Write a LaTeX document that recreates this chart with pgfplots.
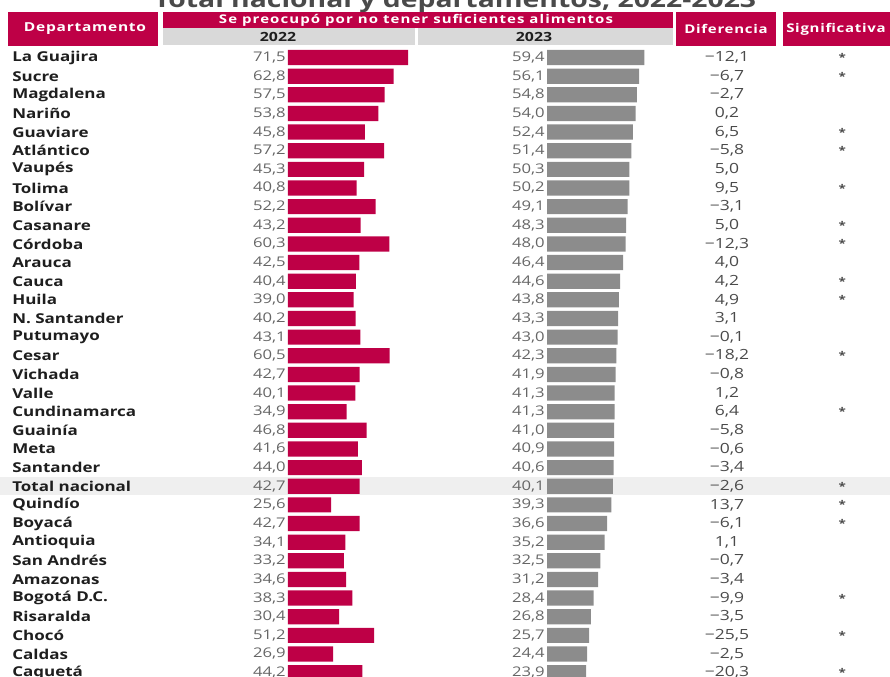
\documentclass[border=0pt]{standalone}
\usepackage{fontspec}
\setmainfont{Open Sans}[FakeStretch=1.25]
\newfontfamily\hdrfont{Open Sans}[FakeStretch=1.25, LetterSpace=6]
\newfontfamily\hdrwide{Open Sans}[FakeStretch=1.25, LetterSpace=9]
\usepackage{pgfplots}
\usepackage{pgfplotstable}
\pgfplotsset{compat=1.18}
\pgfkeys{/pgf/number format/assume math mode=true}
\definecolor{crim}{HTML}{BE0046}
\definecolor{barg}{HTML}{8C8C8C}
\definecolor{hdrg}{HTML}{D9D9D9}
\definecolor{bandc}{HTML}{EFEFEF}
\definecolor{numg}{HTML}{666666}
\definecolor{difg}{HTML}{4A4A4A}
\definecolor{txt}{HTML}{1E1E1E}

\newcommand\mynum[1]{\pgfmathparse{(#1)<0}\ifdim\pgfmathresult pt>0.5pt −\fi\pgfmathsetmacro\absv{abs(#1)}\pgfmathprintnumber[fixed,fixed zerofill,precision=1,use comma]{\absv}}

\pgfplotstableread{
idx v22 v23 diff sig
0 71.5 59.4 -12.1 1
1 62.8 56.1 -6.7 1
2 57.5 54.8 -2.7 0
3 53.8 54.0 0.2 0
4 45.8 52.4 6.5 1
5 57.2 51.4 -5.8 1
6 45.3 50.3 5.0 0
7 40.8 50.2 9.5 1
8 52.2 49.1 -3.1 0
9 43.2 48.3 5.0 1
10 60.3 48.0 -12.3 1
11 42.5 46.4 4.0 0
12 40.4 44.6 4.2 1
13 39.0 43.8 4.9 1
14 40.2 43.3 3.1 0
15 43.1 43.0 -0.1 0
16 60.5 42.3 -18.2 1
17 42.7 41.9 -0.8 0
18 40.1 41.3 1.2 0
19 34.9 41.3 6.4 1
20 46.8 41.0 -5.8 0
21 41.6 40.9 -0.6 0
22 44.0 40.6 -3.4 0
23 42.7 40.1 -2.6 1
24 25.6 39.3 13.7 1
25 42.7 36.6 -6.1 1
26 34.1 35.2 1.1 0
27 33.2 32.5 -0.7 0
28 34.6 31.2 -3.4 0
29 38.3 28.4 -9.9 1
30 30.4 26.8 -3.5 0
31 51.2 25.7 -25.5 1
32 26.9 24.4 -2.5 0
33 44.2 23.9 -20.3 1
}\datatable

\begin{document}
\begin{tikzpicture}
\begin{scope}[x=0.75pt,y=-0.75pt]
  % highlighted row
  \fill[bandc] (0,476.6) rectangle (890,495.2);
  % title (partly above the page, as in the reference)
  \node[anchor=base, font=\bfseries\fontsize{17}{20}\selectfont, text=difg, inner sep=0pt] at (455,7) {Total nacional y departamentos, 2022-2023};
  % header boxes
  \fill[crim] (8,12) rectangle (158,46);
  \node[text=white, font=\hdrfont\bfseries\fontsize{9.3}{10}\selectfont] at (85,29) {Departamento};
  \fill[crim] (163,12) rectangle (673,27.5);
  \node[text=white, font=\hdrwide\bfseries\fontsize{9}{10}\selectfont] at (416,20) {Se preocupó por no tener suficientes alimentos};
  \fill[hdrg] (163,27.5) rectangle (415,45);
  \fill[hdrg] (418,27.5) rectangle (673,45);
  \node[text=txt, font=\bfseries\fontsize{9.5}{10}\selectfont] at (278,36.5) {2022};
  \node[text=txt, font=\bfseries\fontsize{9.5}{10}\selectfont] at (534,36.5) {2023};
  \fill[crim] (676,12) rectangle (776,46);
  \node[text=white, font=\hdrfont\bfseries\fontsize{9}{10}\selectfont] at (726,29) {Diferencia};
  \fill[crim] (783,12) rectangle (900,46);
  \node[anchor=west, inner sep=0pt, text=white, font=\hdrfont\bfseries\fontsize{9}{10}\selectfont] at (786,29) {Significativa};
  \coordinate (A22) at (288,48.2);
  \coordinate (A23) at (547,48.2);
\end{scope}

% ---- 2022 ----
\begin{axis}[
  at={(A22)}, anchor=north west,
  x=1.26pt, y=13.98pt,
  xmin=0, xmax=80, ymin=-33.5, ymax=0.5,
  axis line style={draw=none},
  xtick=\empty,
  ytick={-33,...,0},
  yticklabels={Caquetá, Caldas, Chocó, Risaralda, Bogotá D.C., Amazonas, San Andrés, Antioquia, Boyacá, Quindío, Total nacional, Santander, Meta, Guainía, Cundinamarca, Valle, Vichada, Cesar, Putumayo, N. Santander, Huila, Cauca, Arauca, Córdoba, Casanare, Bolívar, Tolima, Vaupés, Atlántico, Guaviare, Nariño, Magdalena, Sucre, La Guajira},
  major tick length=0pt,
  yticklabel style={anchor=west, inner sep=0pt, xshift=-207pt, font=\bfseries\fontsize{10.2}{12}\selectfont, text=txt},
  clip=false,
]
\addplot[xbar, bar width=11.4pt, fill=crim, draw=none] table[x=v22, y expr=-\thisrow{idx}]{\datatable};
\addplot[draw=none, mark=none, point meta=explicit symbolic,
  nodes near coords={\mynum{\pgfplotspointmeta}},
  every node near coord/.append style={anchor=east, inner sep=1.5pt, text=numg, font=\fontsize{10}{12}\selectfont}]
  table[x expr=0, y expr=-\thisrow{idx}, meta=v22]{\datatable};
\end{axis}

% ---- 2023 ----
\begin{axis}[
  at={(A23)}, anchor=north west,
  x=1.23pt, y=13.98pt,
  xmin=0, xmax=75, ymin=-33.5, ymax=0.5,
  axis line style={draw=none},
  xtick=\empty, ytick=\empty,
  major tick length=0pt,
  clip=false,
]
\addplot[xbar, bar width=11.4pt, fill=barg, draw=none] table[x=v23, y expr=-\thisrow{idx}]{\datatable};
\addplot[draw=none, mark=none, point meta=explicit symbolic,
  nodes near coords={\mynum{\pgfplotspointmeta}},
  every node near coord/.append style={anchor=east, inner sep=1.5pt, text=numg, font=\fontsize{10}{12}\selectfont}]
  table[x expr=0, y expr=-\thisrow{idx}, meta=v23]{\datatable};
% Diferencia column
\addplot[draw=none, mark=none, point meta=explicit symbolic,
  nodes near coords={\mynum{\pgfplotspointmeta}},
  every node near coord/.append style={anchor=center, inner sep=0pt, text=difg, font=\fontsize{10.5}{12}\selectfont}]
  table[x expr=109.8, y expr=-\thisrow{idx}, meta=diff]{\datatable};
% Significativa column
\addplot[draw=none, mark=none, point meta=explicit symbolic,
  restrict expr to domain={\thisrow{sig}}{0.5:1.5},
  nodes near coords={*},
  every node near coord/.append style={anchor=center, inner sep=0pt, text=difg, font=\bfseries\fontsize{8}{9}\selectfont}]
  table[x expr=180, y expr=-\thisrow{idx}, meta=sig]{\datatable};
\end{axis}

\pgfresetboundingbox
\path[use as bounding box, x=0.75pt, y=-0.75pt] (0,0) rectangle (890,676);
\end{tikzpicture}
\end{document}
